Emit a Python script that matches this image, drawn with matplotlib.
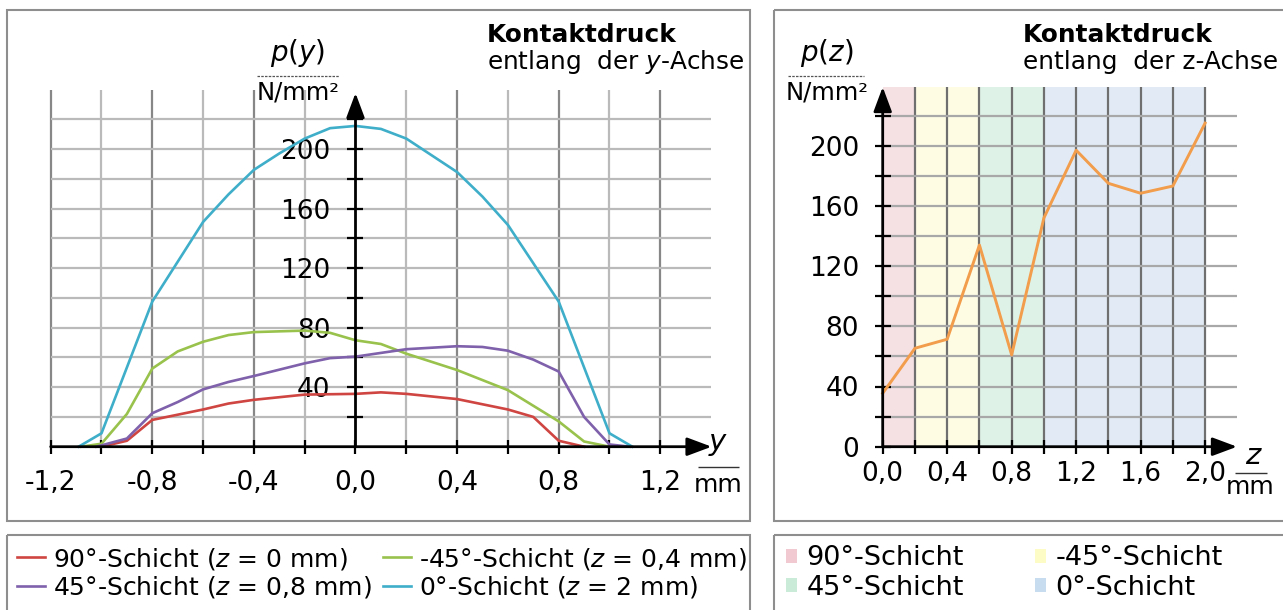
import matplotlib
matplotlib.use('Agg')
import matplotlib.pyplot as plt
from matplotlib.patches import Rectangle, Patch

# ---------------- data ----------------
# Kontaktdruck entlang der y-Achse
y_90 = [-1.0, -0.9, -0.8, -0.7, -0.6, -0.5, -0.4, -0.2, 0.0, 0.1, 0.2, 0.4, 0.6, 0.7, 0.8, 0.9]
p_90 = [0, 4, 18, 21.5, 25, 29, 31.5, 35, 35.5, 36.5, 35.5, 32, 25, 20, 4, 0]

y_m45 = [-1.08, -1.0, -0.9, -0.8, -0.7, -0.6, -0.5, -0.4, -0.2, -0.1, 0.0, 0.1, 0.2, 0.4, 0.6, 0.8, 0.9, 1.0]
p_m45 = [0, 2, 22, 52.5, 64, 70.5, 75, 77, 78, 76.5, 71.5, 69, 62.5, 51.5, 38, 17, 3.5, 0]

y_45 = [-1.02, -0.9, -0.8, -0.7, -0.6, -0.5, -0.4, -0.2, -0.1, 0.0, 0.1, 0.2, 0.4, 0.5, 0.6, 0.7, 0.8, 0.9, 1.0, 1.08]
p_45 = [0, 5.5, 22.5, 30, 38.5, 43.5, 47.5, 56, 59.5, 60.5, 63, 65.5, 67.5, 67, 64.5, 58.5, 50.5, 20, 1.5, 0]

y_0 = [-1.09, -1.0, -0.8, -0.6, -0.5, -0.4, -0.3, -0.2, -0.1, 0.0, 0.1, 0.2, 0.4, 0.5, 0.6, 0.8, 1.0, 1.09]
p_0 = [0, 9, 97.5, 151, 169.5, 186, 197, 207, 214, 215.5, 213.5, 207, 184.5, 168, 149, 97.5, 9, 0]

labels_y = ['90°-Schicht ($z$ = 0 mm)', '-45°-Schicht ($z$ = 0,4 mm)',
            '45°-Schicht ($z$ = 0,8 mm)', '0°-Schicht ($z$ = 2 mm)']

# Kontaktdruck entlang der z-Achse
z_pos = [0.0, 0.2, 0.4, 0.6, 0.8, 1.0, 1.2, 1.4, 1.6, 1.8, 2.0]
p_z = [35.5, 65.4, 71.4, 134, 61, 152, 197, 175, 168.4, 173.2, 215]

layer_names = ['90°-Schicht', '-45°-Schicht', '45°-Schicht', '0°-Schicht']
layer_start = [0.0, 0.2, 0.6, 1.0]
layer_end = [0.2, 0.6, 1.0, 2.0]

# ticks
left_xticks = [-1.2, -1.0, -0.8, -0.6, -0.4, -0.2, 0.0, 0.2, 0.4, 0.6, 0.8, 1.0, 1.2]
left_xticklabels = ['-1,2', '', '-0,8', '', '-0,4', '', '0,0', '', '0,4', '', '0,8', '', '1,2']
left_yticks = [20, 40, 60, 80, 100, 120, 140, 160, 180, 200, 220]
left_yticklabels = ['', '40', '', '80', '', '120', '', '160', '', '200', '']

right_xticks = [0.0, 0.2, 0.4, 0.6, 0.8, 1.0, 1.2, 1.4, 1.6, 1.8, 2.0]
right_xticklabels = ['0,0', '', '0,4', '', '0,8', '', '1,2', '', '1,6', '', '2,0']
right_yticks = [0, 20, 40, 60, 80, 100, 120, 140, 160, 180, 200, 220]
right_yticklabels = ['0', '', '40', '', '80', '', '120', '', '160', '', '200', '']

# ---------------- styling ----------------
C_90, C_M45, C_45, C_0 = '#cf4541', '#98c24c', '#7e60ab', '#3eaec9'
C_Z = '#f29d4b'
band_colors = ['#f5e0e4', '#fefde4', '#dff2e8', '#e2ebf5']
patch_colors = ['#f1c9d0', '#fdfbc6', '#c9ebd8', '#c8dcf0']
GRID_L, GRID_D = '#bababa', '#878787'
BOX = '#8e8e8e'
FS = 17.5      # titles
TFS = 19       # tick labels

W, H = 1283, 610
plt.rcParams['font.family'] = ['DejaVu Sans']
plt.rcParams['mathtext.fontset'] = 'dejavusans'
fig = plt.figure(figsize=(W / 100, H / 100), dpi=100)

# pixel overlay for frames and annotations
ov = fig.add_axes([0, 0, 1, 1], zorder=0)
ov.set_xlim(0, W)
ov.set_ylim(H, 0)
ov.axis('off')
for (x0, y0, x1, y1) in [(7, 10, 750, 521), (774, 10, 1295, 521),
                         (7, 535, 750, 615), (774, 535, 1295, 615)]:
    ov.add_patch(Rectangle((x0, y0), x1 - x0, y1 - y0, fill=False, ec=BOX, lw=1.5))


def data_axes(px0, py0, px1, py1, X0, SX, Y0, SY):
    ax = fig.add_axes([px0 / W, 1 - py1 / H, (px1 - px0) / W, (py1 - py0) / H], zorder=2)
    ax.set_xlim((px0 - X0) / SX, (px1 - X0) / SX)
    ax.set_ylim((Y0 - py1) / SY, (Y0 - py0) / SY)
    ax.patch.set_visible(False)
    return ax


def style_axes(ax, xt, xtl, yt, ytl, xmin, xtip, ytip, xpad, ypad):
    for s in ['top', 'right']:
        ax.spines[s].set_visible(False)
    for s in ['left', 'bottom']:
        ax.spines[s].set_position(('data', 0))
        ax.spines[s].set_color('none')
    ax.set_xticks(xt, xtl)
    ax.set_yticks(yt, ytl)
    ax.tick_params(axis='x', direction='inout', length=10, width=1.6, pad=xpad,
                   labelsize=TFS, color='k')
    ax.tick_params(axis='y', direction='inout', length=11, width=1.6, pad=ypad,
                   labelsize=TFS, color='k')
    arr = dict(arrowstyle='-|>,head_length=0.75,head_width=0.28', color='k', lw=2.0,
               shrinkA=0, shrinkB=0, mutation_scale=20)
    ax.annotate('', xy=(xtip, 0), xytext=(xmin, 0), arrowprops=arr, zorder=5)
    ax.annotate('', xy=(0, ytip), xytext=(0, 0), arrowprops=arr, zorder=5)


# ---------------- left chart ----------------
axL = data_axes(15, 60, 745, 515, 355.5, 254.0, 446.7, 1.4885)
for xv, lab in zip(left_xticks, left_xticklabels):
    if xv != 0.0:
        axL.vlines(xv, 0, 239.6, colors=GRID_D if lab else GRID_L, lw=1.6, zorder=1)
axL.hlines(left_yticks, -1.2, 1.4, colors=GRID_L, lw=1.6, zorder=1)
style_axes(axL, left_xticks, left_xticklabels, left_yticks, left_yticklabels,
           -1.2, 1.402, 237.6, 11.5, 12.5)
h90, = axL.plot(y_90, p_90, color=C_90, lw=1.9, zorder=3, label=labels_y[0])
hm45, = axL.plot(y_m45, p_m45, color=C_M45, lw=1.9, zorder=3, label=labels_y[1])
h45, = axL.plot(y_45, p_45, color=C_45, lw=1.9, zorder=3, label=labels_y[2])
h0, = axL.plot(y_0, p_0, color=C_0, lw=1.9, zorder=3, label=labels_y[3])

# ---------------- right chart ----------------
axR = data_axes(780, 60, 1280, 515, 882.7, 161.2, 446.7, 1.505)
for c, a, b in zip(band_colors, layer_start, layer_end):
    axR.bar(a, 239, width=b - a, align='edge', color=c, lw=0, zorder=0)
axR.vlines(right_xticks[1:], 0, 239, colors='#6f6f6f', lw=1.6, zorder=1)
axR.hlines(right_yticks[1:], 0, 2.2, colors='#a8a8a8', lw=1.6, zorder=1)
style_axes(axR, right_xticks, right_xticklabels, right_yticks, right_yticklabels,
           0.0, 2.198, 239, 5.0, 11.5)
axR.plot(z_pos, p_z, color=C_Z, lw=2.1, zorder=3)

# ---------------- annotations ----------------
ov.text(487, 42, 'Kontaktdruck', fontsize=FS + 0.3, fontweight='bold', ha='left', va='baseline')
ov.text(487, 69, 'entlang  der $y$-Achse', fontsize=FS + 0.3, ha='left', va='baseline')
ov.text(298, 53, '$p$($y$)', fontsize=20, ha='center', va='center')
ov.hlines(76, 257, 339, colors='#555555', lw=0.9, linestyles=(0, (2, 1)))
ov.text(298, 93, 'N/mm²', fontsize=FS, ha='center', va='center')
ov.text(718, 444, '$y$', fontsize=21, ha='center', va='center')
ov.hlines(467, 698, 739, colors='#333333', lw=1.0)
ov.text(718, 485, 'mm', fontsize=FS + 0.5, ha='center', va='center')

ov.text(1023, 42, 'Kontaktdruck', fontsize=FS + 0.3, fontweight='bold', ha='left', va='baseline')
ov.text(1023, 69, 'entlang  der z-Achse', fontsize=FS + 0.3, ha='left', va='baseline')
ov.text(827, 53, '$p$($z$)', fontsize=20, ha='center', va='center')
ov.hlines(76, 788, 864, colors='#555555', lw=0.9, linestyles=(0, (2, 1)))
ov.text(827, 93, 'N/mm²', fontsize=FS, ha='center', va='center')
ov.text(1254, 456, '$z$', fontsize=21, ha='center', va='center')
ov.hlines(473, 1235, 1267, colors='#333333', lw=1.0)
ov.text(1250, 487, 'mm', fontsize=FS + 0.5, ha='center', va='center')

# ---------------- legends ----------------
leg_kw = dict(loc='center left', frameon=False, borderpad=0,
              borderaxespad=0, labelspacing=0.12, bbox_transform=fig.transFigure)
fig.legend(handles=[h90, h45], bbox_to_anchor=(17 / W, 1 - 573 / H), fontsize=18,
           handlelength=1.1, handletextpad=0.35, **leg_kw)
fig.legend(handles=[hm45, h0], bbox_to_anchor=(383 / W, 1 - 573 / H), fontsize=18,
           handlelength=1.1, handletextpad=0.35, **leg_kw)
ph = [Patch(facecolor=c, edgecolor='none', label=n) for c, n in zip(patch_colors, layer_names)]
fig.legend(handles=[ph[0], ph[2]], bbox_to_anchor=(786 / W, 1 - 573 / H), fontsize=19.5,
           handlelength=0.42, handleheight=0.42, handletextpad=0.33, **leg_kw)
fig.legend(handles=[ph[1], ph[3]], bbox_to_anchor=(1035 / W, 1 - 573 / H), fontsize=19.5,
           handlelength=0.42, handleheight=0.42, handletextpad=0.33, **leg_kw)

fig.savefig('out.png', dpi=100)
